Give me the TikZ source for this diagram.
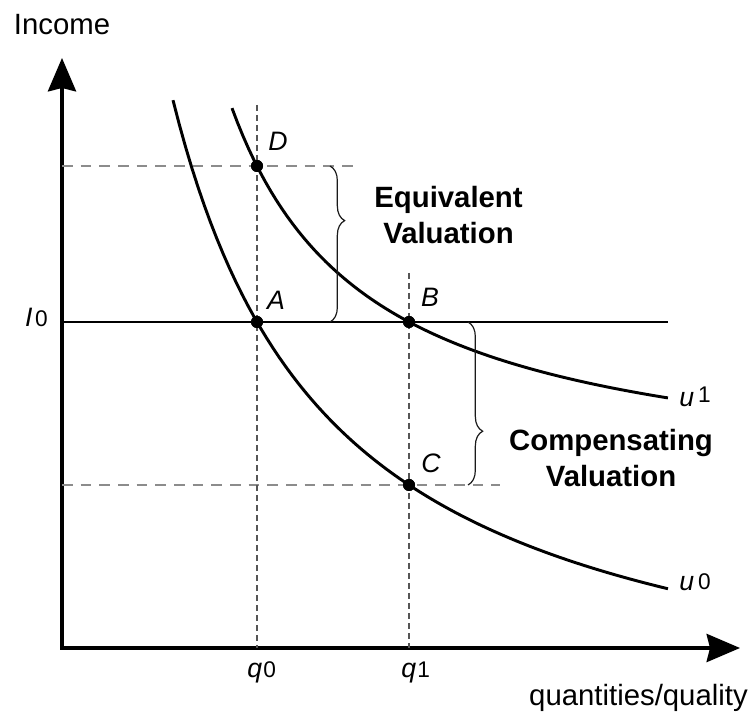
\documentclass[tikz,border=0pt]{standalone}
\usepackage{fontspec}
\setmainfont{Liberation Sans}
\usetikzlibrary{arrows.meta, positioning, decorations.pathreplacing}
\definecolor{ivdark}{HTML}{1A1A1A}
\definecolor{ivgrid}{HTML}{8C8C8C}
\definecolor{ivdrop}{HTML}{555555}
\tikzset{
  axis/.style={line width=3pt, line join=miter,
    {Stealth[length=25pt, width=21pt, inset=2.5pt]}-{Stealth[length=25pt, width=21pt, inset=2.5pt]}},
  curve/.style={line width=2.2pt, black},
  budget/.style={line width=1.5pt, black},
  hguide/.style={ivgrid, line width=1.1pt, dash pattern=on 8pt off 6pt},
  vguide/.style={ivdrop, line width=0.8pt, dash pattern=on 4.5pt off 3pt},
  dot/.style={circle, fill=black, inner sep=0pt, minimum size=9pt},
  ptlabel/.style={font=\fontsize{20}{24}\selectfont\itshape, inner sep=0pt},
  axlabel/.style={font=\fontsize{22}{26}\selectfont, inner sep=0pt},
  vallabel/.style={font=\fontsize{22}{27}\selectfont\bfseries, align=center, inner sep=0pt},
  vbrace/.style={decorate, decoration={brace, amplitude=11pt, aspect=#1}, line width=0.9pt, ivdark},
}
\newcommand{\idx}[1]{{\upshape\fontsize{17}{20}\selectfont #1}}

\begin{document}
\begin{tikzpicture}[x=75pt, y=75pt]
  \useasboundingbox (-0.62,-0.68) rectangle (6.93,6.48);
  % axes
  \coordinate (O) at (0,0);
  \coordinate (ytip) at (0,5.90);
  \coordinate (xtip) at (6.78,0);
  \draw[axis] (ytip) -- (O) -- (xtip);
  \node[axlabel, anchor=base] (income) at (0,6.13) {Income};
  \node[axlabel, anchor=base east] (qty) at (6.86,-0.57) {quantities/quality};

  % points
  \node[dot] (A) at (1.95,3.26) {};
  \node[dot] (B) at (3.47,3.26) {};
  \node[dot] (C) at (3.47,1.63) {};
  \node[dot] (D) at (1.95,4.82) {};
  \coordinate (q0top) at (1.95,5.43);
  \coordinate (q1top) at (3.47,3.75);
  \coordinate (Dend) at (2.98,4.82);
  \coordinate (Cend) at (4.38,1.63);
  \coordinate (Iend) at (6.06,3.26);

  % guides
  \draw[hguide] (D -| O) -- (Dend);
  \draw[hguide] (C -| O) -- (Cend);
  \draw[vguide] (q0top) -- (q0top |- O);
  \draw[vguide] (q1top) -- (q1top |- O);
  \draw[budget] (A -| O) -- (Iend);

  % indifference curves
  \draw[curve] plot[domain=1.11:6.06, samples=80] (\x, {10.45/(\x+0.503)-1});
  \draw[curve] plot[domain=1.70:6.06, samples=80] (\x, {5.36/(\x-0.30)+1.57});

  \foreach \p in {A, B, C, D}
    \node[dot] at (\p) {};

  % braces
  \draw[vbrace=0.35] (2.68,4.82) -- (2.68,3.26);
  \draw[vbrace=0.67] (4.06,3.26) -- (4.06,1.63);
  \node[vallabel] (equiv) at (3.865,4.33) {Equivalent\\Valuation};
  \node[vallabel] (comp) at (5.49,1.895) {Compensating\\Valuation};

  % labels
  \node[ptlabel] (labA) at (2.14,3.48) {A};
  \node[ptlabel] (labB) at (3.68,3.51) {B};
  \node[ptlabel] (labC) at (3.69,1.85) {C};
  \node[ptlabel] (labD) at (2.16,5.07) {D};
  \node[ptlabel, anchor=base east] (labI) at (-0.14,3.21) {I\kern2pt\idx{0}};
  \node[ptlabel, anchor=base west] (labq0) at (1.85,-0.29) {q\kern1pt\idx{0}};
  \node[ptlabel, anchor=base west] (labq1) at (3.39,-0.29) {q\kern1pt\idx{1}};
  \node[ptlabel, anchor=base west] (labu1) at (6.17,2.41) {u\kern3pt\raisebox{3pt}{\idx{1}}};
  \node[ptlabel, anchor=base west] (labu0) at (6.17,0.57) {u\kern3pt\raisebox{1pt}{\idx{0}}};
\end{tikzpicture}
\end{document}
